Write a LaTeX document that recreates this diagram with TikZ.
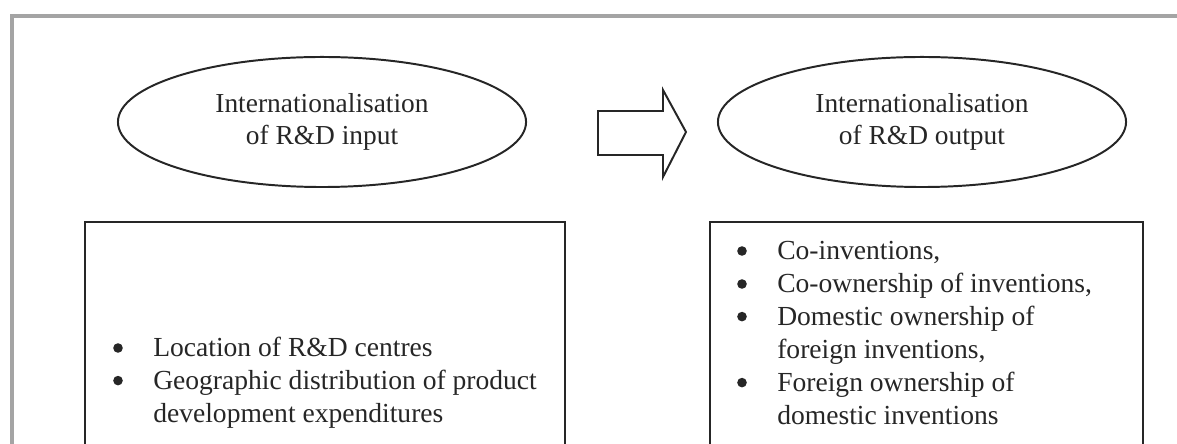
\documentclass[tikz,border=0pt]{standalone}
\usepackage{fontspec}
\setmainfont{Liberation Serif}
\usetikzlibrary{shapes.geometric,positioning}
\definecolor{ink}{HTML}{262626}
\definecolor{framegray}{HTML}{A4A4A4}
\tikzset{
  oval/.style={ellipse,draw=ink,line width=1.4pt,minimum width=10.2cm,minimum height=3.25cm,
    align=center,inner sep=0pt,font=\fontsize{19.5}{22.7}\selectfont},
  listbox/.style={draw=ink,line width=1.3pt},
  listitem/.style={anchor=base west,align=left,inner sep=0pt,font=\fontsize{19.6}{23.7}\selectfont},
  blockarrow/.style={draw=ink,line width=1.4pt,line join=miter}}

\begin{document}
\begin{tikzpicture}[x=.025cm,y=-.025cm,every node/.style={text=ink}]
\useasboundingbox (0,0) rectangle (1177,444);
\clip (0,0) rectangle (1177,444);
% outer frame, cut at right and bottom
\draw[framegray,line width=2.2pt] (12,480) |- (1200,16);
% the two stages
\node[oval] (inOval) at (322,122) {Internationalisation\\of R\&D input};
\node[oval] (outOval) at (922,122) {Internationalisation\\of R\&D output};
\draw[blockarrow] (598,111)--(663,111)--(663,90)--(686,132)--(663,177)--(663,155)--(598,155)--cycle;
% indicator boxes (base = last line)
\draw[listbox] (85,222) rectangle (565,480);
\draw[listbox] (710,222) rectangle (1143,480);
\node[listitem] (loc) at (153,357) {Location of R\&D centres};
\node[listitem] (geo) at (153,423) {Geographic distribution of product\\development expenditures};
\node[listitem] (coinv) at (777,260) {Co-inventions,};
\node[listitem] (coown) at (777,293) {Co-ownership of inventions,};
\node[listitem] (domown) at (777,359) {Domestic ownership of\\foreign inventions,};
\node[listitem] (forown) at (777,425) {Foreign ownership of\\domestic inventions};
\foreach \n/\k in {loc/0,geo/1,coinv/0,coown/0,domown/1,forown/1}
  \fill[ink] (\n.base west) ++(-35,{-9-33.4*\k}) circle (1.2mm);
\end{tikzpicture}
\end{document}
